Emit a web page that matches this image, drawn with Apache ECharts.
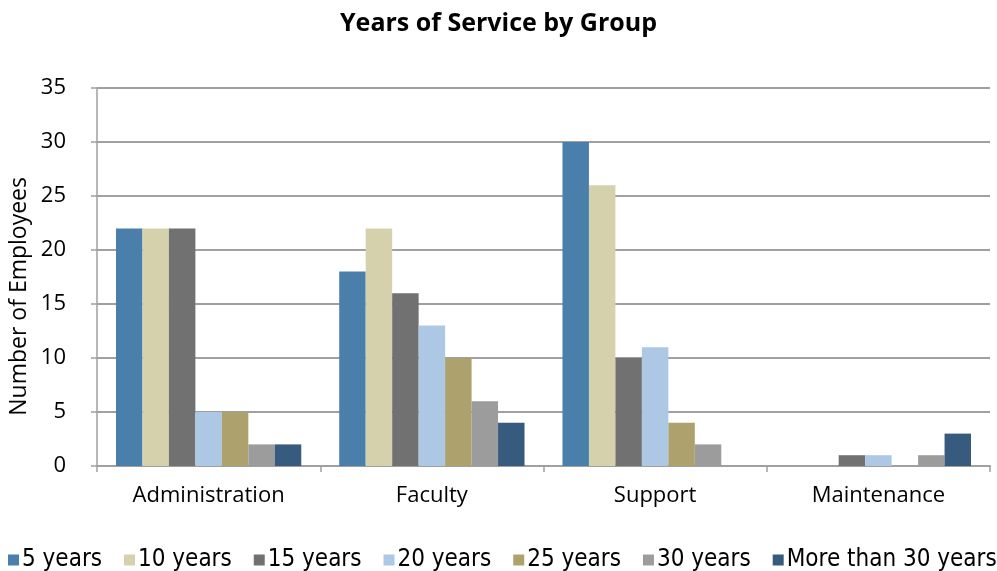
<!DOCTYPE html>
<html>
<head>
<meta charset="utf-8">
<script src="https://cdn.jsdelivr.net/npm/echarts@6/dist/echarts.min.js"></script>
<style>html,body{margin:0;padding:0;background:#fff;}#c{width:997px;height:571px;}</style>
</head>
<body>
<div id="c"></div>
<script>
const categories = ['Administration', 'Faculty', 'Support', 'Maintenance'];
const seriesNames = ['5 years', '10 years', '15 years', '20 years', '25 years', '30 years', 'More than 30 years'];
const years5 = [22, 18, 30, 0];
const years10 = [22, 22, 26, 0];
const years15 = [22, 16, 10, 1];
const years20 = [5, 13, 11, 1];
const years25 = [5, 10, 4, 0];
const years30 = [2, 6, 2, 1];
const moreThan30 = [2, 4, 0, 3];
const yTicks = [0, 5, 10, 15, 20, 25, 30, 35];
const yAxisTitle = 'Number of Employees';

const colors = ['#4a7eab', '#d6d1ad', '#717171', '#adc8e5', '#ada26e', '#9c9c9c', '#375a7f'];
const values = [years5, years10, years15, years20, years25, years30, moreThan30];
const FONT = '"Open Sans", "Noto Sans", sans-serif';

const chart = echarts.init(document.getElementById('c'), null, {renderer: 'canvas'});
chart.setOption({
  animation: false,
  backgroundColor: '#ffffff',
  title: {
    text: 'Years of Service by Group',
    left: 'center', top: 6,
    textStyle: {fontFamily: FONT, fontWeight: 'bold', fontSize: 25, color: '#000'}
  },
  legend: {
    left: 3, top: 543, width: 1400,
    itemWidth: 11, itemHeight: 11, itemGap: 22,
    icon: 'rect',
    textStyle: {fontFamily: '"DejaVu Sans Condensed", "DejaVu Sans", sans-serif', fontSize: 24, color: '#000', padding: [0, 0, 0, -2]},
    data: seriesNames
  },
  graphic: [{
    type: 'text',
    left: 8, top: 177,
    rotation: Math.PI / 2,
    style: {text: yAxisTitle, fontFamily: FONT, fontSize: 23, fill: '#000'}
  }],
  grid: {left: 97, right: 7, top: 88, bottom: 105, containLabel: false},
  xAxis: {
    type: 'category',
    data: categories,
    axisLine: {lineStyle: {color: '#a0a0a0', width: 2}},
    axisTick: {show: true, length: 6, lineStyle: {color: '#a0a0a0', width: 1.5}},
    axisLabel: {fontFamily: FONT, fontSize: 22, color: '#000', margin: 19}
  },
  yAxis: {
    type: 'value',
    min: yTicks[0], max: yTicks[yTicks.length - 1], interval: 5,
    axisLine: {show: true, lineStyle: {color: '#a0a0a0', width: 1.5}},
    axisTick: {show: true, length: 6, lineStyle: {color: '#a0a0a0', width: 1.5}},
    axisLabel: {fontFamily: FONT, fontSize: 22, color: '#000', margin: 31},
    splitLine: {lineStyle: {color: '#a0a0a0', width: 2}}
  },
  series: seriesNames.map((n, i) => ({
    name: n,
    type: 'bar',
    data: values[i],
    barGap: '0%',
    barCategoryGap: '17%',
    itemStyle: {color: colors[i]}
  }))
});
</script>
</body>
</html>
